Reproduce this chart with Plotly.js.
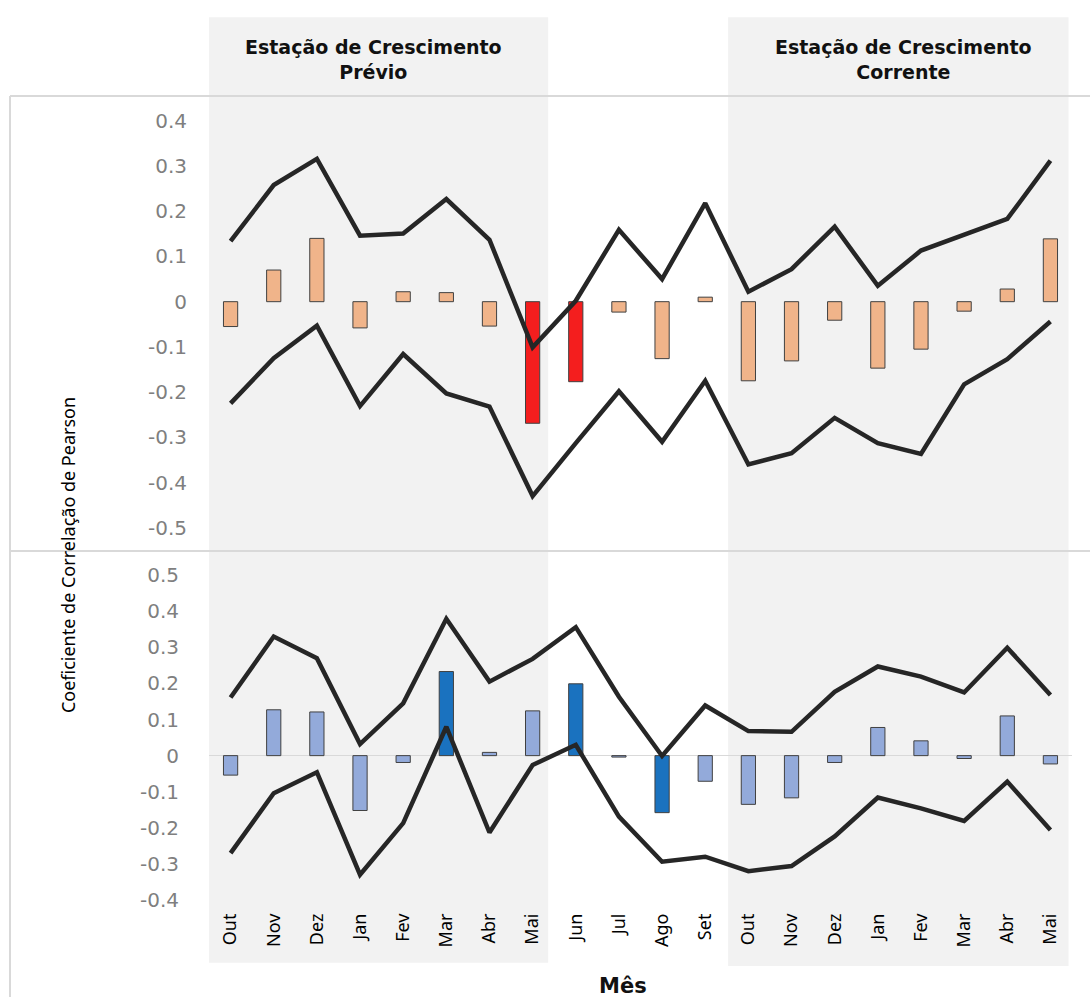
<!DOCTYPE html>
<html>
<head>
<meta charset="utf-8">
<script src="https://cdn.plot.ly/plotly-3.0.1.min.js"></script>
<style>html,body{margin:0;padding:0;background:#fff;}#chart{width:1090px;height:997px;}</style>
</head>
<body>
<div id="chart"></div>
<script>
// ---- data ----
var months = ["Out","Nov","Dez","Jan","Fev","Mar","Abr","Mai","Jun","Jul","Ago","Set","Out","Nov","Dez","Jan","Fev","Mar","Abr","Mai"];

// top panel
var topBars  = [-0.055, 0.070, 0.140, -0.058, 0.022, 0.020, -0.054, -0.269, -0.177, -0.023, -0.126, 0.010, -0.175, -0.131, -0.041, -0.147, -0.105, -0.021, 0.028, 0.139];
var topSig   = [0,0,0,0,0,0,0,1,1,0,0,0,0,0,0,0,0,0,0,0];
var topUpper = [0.134, 0.258, 0.316, 0.146, 0.151, 0.227, 0.137, -0.101, 0.002, 0.159, 0.050, 0.218, 0.022, 0.072, 0.166, 0.035, 0.113, 0.148, 0.183, 0.312];
var topLower = [-0.225, -0.125, -0.053, -0.231, -0.116, -0.203, -0.232, -0.430, -0.313, -0.198, -0.310, -0.175, -0.360, -0.335, -0.257, -0.313, -0.337, -0.183, -0.127, -0.044];

// bottom panel
var botBars  = [-0.054, 0.127, 0.121, -0.152, -0.019, 0.233, 0.009, 0.124, 0.199, -0.004, -0.158, -0.071, -0.135, -0.117, -0.019, 0.078, 0.041, -0.008, 0.110, -0.023];
var botSig   = [0,0,0,0,0,1,0,0,1,0,1,0,0,0,0,0,0,0,0,0];
var botUpper = [0.161, 0.330, 0.270, 0.032, 0.145, 0.379, 0.205, 0.268, 0.356, 0.163, -0.001, 0.139, 0.068, 0.066, 0.177, 0.247, 0.219, 0.175, 0.299, 0.168];
var botLower = [-0.270, -0.104, -0.046, -0.330, -0.187, 0.080, -0.213, -0.026, 0.030, -0.169, -0.294, -0.280, -0.320, -0.306, -0.224, -0.116, -0.146, -0.181, -0.072, -0.206];

var topTicks = [0.4,0.3,0.2,0.1,0,-0.1,-0.2,-0.3,-0.4,-0.5];
var botTicks = [0.5,0.4,0.3,0.2,0.1,0,-0.1,-0.2,-0.3,-0.4];

var titleLeft = ["Estação de Crescimento", "Prévio"];
var titleRight = ["Estação de Crescimento", "Corrente"];
var xTitle = "Mês";
var yTitle = "Coeficiente de Correlação de Pearson";

// ---- build ----
var idx = months.map(function(_, i){ return i; });
function fmt(v){ return v === 0 ? "0" : v.toFixed(1); }
function boldLines(a){ return a.map(function(s){ return "<b>" + s + "</b>"; }).join("<br>"); }

var lineStyle = {color:"#262626", width:4.5};
var narrow = "'Liberation Sans Narrow', 'Noto Sans', sans-serif";
var wide = "'DejaVu Sans', sans-serif";

var traces = [
  {type:"bar", x:idx, y:topBars, xaxis:"x", yaxis:"y", width:0.33,
   marker:{color:topSig.map(function(s){return s?"#F41E1E":"#F0B48A";}), line:{color:"#404040", width:1}}},
  {type:"scatter", mode:"lines", x:idx, y:topUpper, xaxis:"x", yaxis:"y", line:lineStyle},
  {type:"scatter", mode:"lines", x:idx, y:topLower, xaxis:"x", yaxis:"y", line:lineStyle},
  {type:"bar", x:idx, y:botBars, xaxis:"x", yaxis:"y2", width:0.33,
   marker:{color:botSig.map(function(s){return s?"#1A72BF":"#93AADA";}), line:{color:"#404040", width:1}}},
  {type:"scatter", mode:"lines", x:idx, y:botUpper, xaxis:"x", yaxis:"y2", line:lineStyle},
  {type:"scatter", mode:"lines", x:idx, y:botLower, xaxis:"x", yaxis:"y2", line:lineStyle}
];

var split = 0.4341;
var gridCol = "#d9d9d9";
var layout = {
  width:1090, height:997,
  margin:{l:209, r:18, t:96, b:97},
  paper_bgcolor:"#ffffff", plot_bgcolor:"rgba(0,0,0,0)",
  showlegend:false, bargap:0,
  xaxis:{range:[-0.5,19.5], tickvals:idx, ticktext:months, tickangle:-90, anchor:"y2",
         showgrid:false, zeroline:false, showline:false, ticks:"", ticklabelstandoff:9,
         tickfont:{family:narrow, size:18, color:"#000"}},
  yaxis:{domain:[split,1], range:[-0.5515,0.455], tickvals:topTicks, ticktext:topTicks.map(fmt),
         showgrid:false, zeroline:false, showline:false, ticks:"", ticklabelstandoff:21,
         tickfont:{family:wide, size:20, color:"#7f7f7f"}},
  yaxis2:{domain:[0,split], range:[-0.4,0.567], tickvals:botTicks, ticktext:botTicks.map(fmt),
         showgrid:false, zeroline:true, zerolinecolor:gridCol, zerolinewidth:1.5, showline:false, ticks:"", ticklabelstandoff:29,
         tickfont:{family:wide, size:20, color:"#7f7f7f"}},
  shapes:[
    {type:"rect", xref:"x", yref:"paper", x0:-0.6, x1:7.36, y0:-0.078, y1:1.098, fillcolor:"#f2f2f2", line:{width:0}, layer:"below"},
    {type:"rect", xref:"x", yref:"paper", x0:11.53, x1:19.42, y0:-0.082, y1:1.098, fillcolor:"#f2f2f2", line:{width:0}, layer:"below"},
    {type:"line", xref:"paper", yref:"paper", x0:-0.2306, x1:1.03, y0:1, y1:1, line:{color:gridCol, width:2}, layer:"below"},
    {type:"line", xref:"paper", yref:"paper", x0:-0.2306, x1:1.03, y0:split, y1:split, line:{color:gridCol, width:2}, layer:"below"},
    {type:"line", xref:"paper", yref:"paper", x0:-0.2306, x1:-0.2306, y0:1, y1:-0.13, line:{color:gridCol, width:2}, layer:"below"}
  ],
  annotations:[
    {text:boldLines(titleLeft), xref:"paper", yref:"paper", x:0.1901, y:1.0455, showarrow:false, xanchor:"center", yanchor:"middle",
     font:{family:wide, size:19, color:"#111"}},
    {text:boldLines(titleRight), xref:"paper", yref:"paper", x:0.8042, y:1.0455, showarrow:false, xanchor:"center", yanchor:"middle",
     font:{family:wide, size:19, color:"#111"}},
    {text:"<b>"+xTitle+"</b>", xref:"paper", yref:"paper", x:0.4797, y:-0.107, showarrow:false, xanchor:"center", yanchor:"middle",
     font:{family:wide, size:21, color:"#111"}},
    {text:yTitle, xref:"paper", yref:"paper", x:-0.1634, y:0.429, showarrow:false, textangle:-90, xanchor:"center", yanchor:"middle",
     font:{family:narrow, size:18, color:"#000"}}
  ]
};

Plotly.newPlot("chart", traces, layout, {displayModeBar:false, staticPlot:true});
</script>
</body>
</html>
